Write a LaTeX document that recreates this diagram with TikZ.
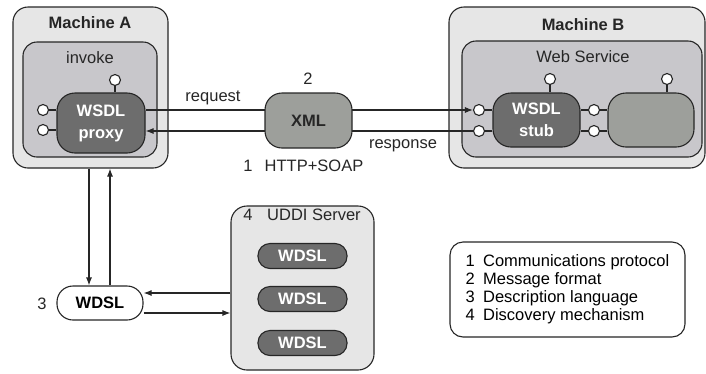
\documentclass[tikz,border=0pt]{standalone}
\usepackage{fontspec}
\setmainfont{Liberation Sans}
\usetikzlibrary{arrows.meta}

\definecolor{boxlight}{HTML}{E6E6E6}
\definecolor{boxmid}{HTML}{C8C7CB}
\definecolor{nodedark}{HTML}{6D6D6D}
\definecolor{nodegray}{HTML}{9D9F9B}

\newcommand{\labelfont}{\fontsize{16.5}{18}\selectfont}

\tikzset{
  wire/.style={line width=1.1pt, draw=black!85},
  machine/.style={wire, fill=boxlight, rounded corners=15pt},
  container/.style={wire, fill=boxmid, rounded corners=14pt},
  part/.style={wire, fill=nodedark, rounded corners=18pt, text=white,
    font=\fontsize{16.5}{22}\selectfont\bfseries, align=center},
  pin/.style={wire, circle, fill=white, inner sep=0pt, minimum size=11pt},
  label/.style={inner sep=0pt, text=black!85},
  arr/.style={wire, -{Latex[length=8pt,width=6pt]}},
}

\begin{document}
\begin{tikzpicture}[x=1pt, y=-1pt, font=\labelfont]
  \useasboundingbox (0,0) rectangle (706,373);

  % machine A
  \node[machine, minimum width=155pt, minimum height=161pt] (machA) at (90.5,87.5) {};
  \node[label, font=\labelfont\bfseries] (machAtitle) at (90,23) {Machine A};
  \node[container, minimum width=134pt, minimum height=115pt] (invoke) at (90,99.5) {};
  \node[label] (invoketitle) at (90,58) {invoke};
  \node[part, minimum width=88pt, minimum height=60pt] (proxy) at (101,123) {WSDL\\proxy};
  \node[pin] (proxyT) at (115,80) {};
  \node[pin] (proxyL1) at (43,110) {};
  \node[pin] (proxyL2) at (43,130) {};
  \draw[wire] (proxyT) -- (proxyT |- proxy.north);
  \draw[wire] (proxyL1) -- (proxyL1 -| proxy.west);
  \draw[wire] (proxyL2) -- (proxyL2 -| proxy.west);

  % machine B
  \node[machine, minimum width=256pt, minimum height=161pt] (machB) at (577,87.5) {};
  \node[label, font=\labelfont\bfseries] (machBtitle) at (583,25) {Machine B};
  \node[container, minimum width=240pt, minimum height=116pt] (websvc) at (582,99) {};
  \node[label] (websvctitle) at (583,57) {Web Service};
  \node[part, minimum width=87pt, minimum height=54pt] (stub) at (536.5,120) {WSDL\\stub};
  \node[part, fill=nodegray, minimum width=86pt, minimum height=54pt] (impl) at (651,120) {};
  \node[pin] (stubT) at (550,79) {};
  \node[pin] (stubL1) at (479,110) {};
  \node[pin] (stubL2) at (479,131) {};
  \node[pin] (stubR1) at (594,110) {};
  \node[pin] (stubR2) at (594,131) {};
  \node[pin] (implT) at (667,79) {};
  \draw[wire] (stubT) -- (stubT |- stub.north);
  \draw[wire] (implT) -- (implT |- impl.north);
  \draw[wire] (stubL1) -- (stubL1 -| stub.west);
  \draw[wire] (stubL2) -- (stubL2 -| stub.west);
  \draw[wire] (stubR1 -| stub.east) -- (stubR1) -- (stubR1 -| impl.west);
  \draw[wire] (stubR2 -| stub.east) -- (stubR2) -- (stubR2 -| impl.west);

  % request / response
  \draw[arr] (proxy.east |- stubL1) -- (stubL1.west);
  \draw[arr] (stubL2.west) -- (stubL2 -| proxy.east);
  \node[part, fill=nodegray, text=black!85, rounded corners=17pt,
    minimum width=87pt, minimum height=55pt] (xml) at (308.5,120.5) {XML};
  \node[label] (num2) at (308,79) {2};
  \node[label] (request) at (213,98) {request};
  \node[label] (response) at (403,146) {response};
  \node[label] (num1) at (248,166) {1};
  \node[label] (http) at (314,166) {HTTP+SOAP};

  % description
  \node[wire, fill=white, rounded corners=16pt, minimum width=86pt,
    minimum height=34pt, font=\labelfont\bfseries] (wdsl) at (100,303) {WDSL};
  \node[label] (num3) at (42,304) {3};
  \coordinate (down) at ([xshift=-11pt]wdsl.north);
  \coordinate (up) at ([xshift=10pt]wdsl.north);
  \draw[arr] (down |- machA.south) -- (down);
  \draw[arr] (up) -- (up |- machA.south);

  % discovery
  \node[machine, rounded corners=16pt, minimum width=143pt, minimum height=164pt] (uddi) at (302.5,288) {};
  \node[label] (num4) at (248,215) {4};
  \node[label] (uddititle) at (314,215) {UDDI Server};
  \foreach \y [count=\i] in {256,299,343}
    \node[part, rounded corners=12pt, minimum width=89pt, minimum height=25pt] (entry\i) at (302.5,\y) {WDSL};
  \coordinate (back) at ([yshift=10pt]wdsl.east);
  \coordinate (forth) at ([yshift=-10pt]wdsl.east);
  \draw[arr] (back -| uddi.west) -- (back);
  \draw[arr] (forth) -- (forth -| uddi.west);

  % legend
  \node[wire, fill=white, rounded corners=13pt, minimum width=235pt, minimum height=95pt,
    align=left, font=\fontsize{16.5}{18}\selectfont] (legend) at (567.5,289.5)
    {1\enspace Communications protocol\\2\enspace Message format\\3\enspace Description language\\4\enspace Discovery mechanism};
\end{tikzpicture}
\end{document}
